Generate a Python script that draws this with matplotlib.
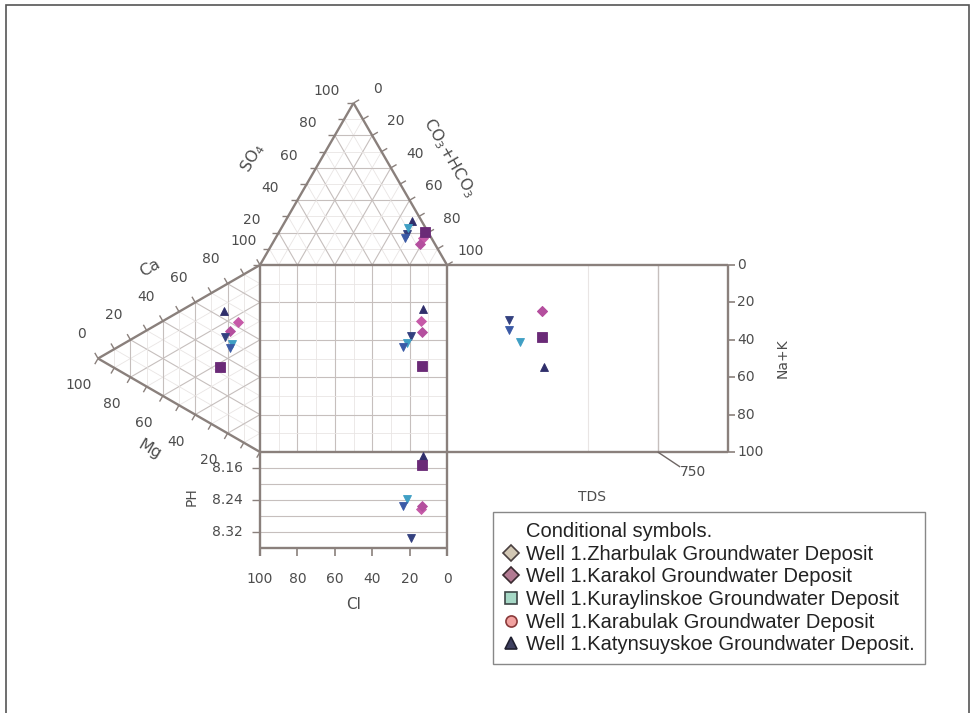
import numpy as np
import matplotlib.pyplot as plt
from matplotlib.lines import Line2D
from matplotlib.patches import Rectangle

# samples, same order in every part of the diagram
cl = [12.7, 14.1, 13.5, 19.3, 21.6, 23.4, 13.2]
na_k = [23.7, 29.9, 35.6, 38.0, 41.6, 43.9, 54.1]
so4 = [27.2, 16.7, 13.0, 19.4, 23.0, 16.5, 20.2]
hco3 = [67.5, 78.7, 79.1, 68.9, 67.8, 69.3, 78.1]
ca = [64.5, 63.0, 55.4, 50.9, 48.9, 46.2, 33.3]
mg = [22.2, 13.4, 18.5, 21.6, 17.5, 18.5, 24.7]
ph = [8.131, 8.262, 8.254, 8.334, 8.237, 8.254, 8.152]
tds = [345, 337, 337, 221, 260, 221, 339]
tds_na_k = [54.7, 24.6, 24.6, 29.6, 41.2, 34.8, 38.3]

markers = ['^', 'D', 'D', 'v', 'v', 'v', 's']
colors = ['#2f2e6b', '#c65aa8', '#b44f9e', '#33407f', '#3f9fc4', '#3b5aa6', '#6a2a77']
msizes = [5.5, 5, 5, 5.5, 5.5, 5.5, 7.5]

legend_title = 'Conditional symbols.'
legend_labels = ['Well 1.Zharbulak Groundwater Deposit',
                 'Well 1.Karakol Groundwater Deposit',
                 'Well 1.Kuraylinskoe Groundwater Deposit',
                 'Well 1.Karabulak Groundwater Deposit',
                 'Well 1.Katynsuyskoe Groundwater Deposit.']
legend_markers = ['D', 'D', 's', 'o', '^']
legend_faces = ['#d2c7b4', '#b27a92', '#a6d8c6', '#f2a2a0', '#3e4060']
legend_edges = ['#4a4040', '#3a2a30', '#3d4646', '#8a3a3a', '#202030']

ph_ticks = [8.16, 8.24, 8.32]
cl_ticks = [100, 80, 60, 40, 20, 0]
nak_ticks = [0, 20, 40, 60, 80, 100]

H = np.sqrt(3) / 2
PH_LO, PH_HI, PH_DEPTH = 8.12, 8.36, 96 / 187
TDS_MAX, TDS_W = 1000, 281 / 187

EDGE = '#8a807c'
G1 = '#e9e5e4'
G2 = '#c6bfbd'
TXT = '#4d4d4d'


def top_tri(s, h):
    # SO4 apex up, Cl at base-left, HCO3 at base-right
    s = np.asarray(s, float) / 100
    h = np.asarray(h, float) / 100
    return h + 0.5 * s, 1 + H * s


def left_tri(c, m):
    # Ca at top-right, Mg at left apex, Na+K at bottom-right
    c = np.asarray(c, float) / 100
    m = np.asarray(m, float) / 100
    return -H * m, c + 0.5 * m


def sq(c, n):
    return 1 - np.asarray(c, float) / 100, 1 - np.asarray(n, float) / 100


def ph_y(p):
    return -(np.asarray(p, float) - PH_LO) / (PH_HI - PH_LO) * PH_DEPTH


def tds_x(t):
    return 1 + np.asarray(t, float) / TDS_MAX * TDS_W


fig = plt.figure(figsize=(9.72, 7.13), dpi=100)
ax = fig.add_axes([0, 0, 1, 1])
ax.set_xlim(-260 / 187, (972 - 260) / 187)
ax.set_ylim((452 - 713) / 187, 452 / 187)
ax.axis('off')

def seg(p, q, color, lw, z=1):
    ax.plot([p[0], q[0]], [p[1], q[1]], color=color, lw=lw, zorder=z,
            solid_capstyle='butt')

# grids
for k in range(1, 10):
    v = k * 10
    col, lw = (G2, 0.8) if k % 2 == 0 else (G1, 0.6)
    # anion triangle
    seg(top_tri(v, 0), top_tri(v, 100 - v), col, lw)
    seg(top_tri(0, v), top_tri(100 - v, v), col, lw)
    seg(top_tri(0, 100 - v), top_tri(100 - v, 0), col, lw)
    # cation triangle
    seg(left_tri(v, 0), left_tri(v, 100 - v), col, lw)
    seg(left_tri(0, v), left_tri(100 - v, v), col, lw)
    seg(left_tri(100 - v, 0), left_tri(0, 100 - v), col, lw)
    # square
    seg(sq(v, 0), sq(v, 100), col, lw)
    seg(sq(0, v), sq(100, v), col, lw)

# pH grid
for p in np.arange(8.16, 8.35, 0.04):
    seg((0, ph_y(p)), (1, ph_y(p)), G2, 0.8)
# TDS grid
seg((tds_x(500), 0), (tds_x(500), 1), G1, 0.8)
seg((tds_x(750), 0), (tds_x(750), 1), G2, 1.0)

# outlines
olw = 1.7
seg(top_tri(0, 0), top_tri(100, 0), EDGE, olw, 3)
seg(top_tri(100, 0), top_tri(0, 100), EDGE, olw, 3)
seg(left_tri(100, 0), left_tri(0, 100), EDGE, olw, 3)
seg(left_tri(0, 100), left_tri(0, 0), EDGE, olw, 3)
seg((0, 1), (tds_x(TDS_MAX), 1), EDGE, olw, 3)
seg((0, 0), (tds_x(TDS_MAX), 0), EDGE, olw, 3)
seg((0, ph_y(PH_HI) - 0.045), (0, 1), EDGE, olw, 3)
seg((1, ph_y(PH_HI) - 0.045), (1, 1), EDGE, olw, 3)
seg((0, ph_y(PH_HI)), (1, ph_y(PH_HI)), EDGE, olw, 3)
seg((tds_x(TDS_MAX), 0), (tds_x(TDS_MAX), 1), EDGE, olw, 3)

# ticks and tick labels
tl = 0.035
fs = 10
for v in range(0, 101, 10):
    x, y = top_tri(v, 0)
    seg((x, y), (x - tl, y), EDGE, 1.0, 3)
    x, y = top_tri(100 - v, v)
    seg((x, y), (x + tl * H, y + tl * 0.5), EDGE, 1.0, 3)
    x, y = left_tri(v, 100 - v)
    seg((x, y), (x - tl * 0.5, y + tl * H), EDGE, 1.0, 3)
    x, y = left_tri(0, v)
    seg((x, y), (x - tl * 0.5, y - tl * H), EDGE, 1.0, 3)
for v in range(20, 101, 20):
    x, y = top_tri(v, 0)
    ax.text(x - 0.145, y + 0.065, str(v), fontsize=fs, color=TXT,
            ha='center', va='center')
for v in range(0, 101, 20):
    x, y = top_tri(100 - v, v)
    ax.text(x + 0.128, y + 0.075, str(v), fontsize=fs, color=TXT,
            ha='center', va='center')
    x, y = left_tri(v, 100 - v)
    ax.text(x - 0.088, y + 0.131, str(v), fontsize=fs, color=TXT,
            ha='center', va='center')
for v in range(20, 101, 20):
    x, y = left_tri(0, v)
    ax.text(x - 0.102, y - 0.144, str(v), fontsize=fs, color=TXT,
            ha='center', va='center')

for p in ph_ticks:
    seg((0, ph_y(p)), (-0.045, ph_y(p)), EDGE, 1.0, 3)
    ax.text(-0.09, ph_y(p), f'{p:.2f}', fontsize=fs, color=TXT,
            ha='right', va='center')
for c in cl_ticks:
    x = sq(c, 0)[0]
    seg((x, ph_y(PH_HI)), (x, ph_y(PH_HI) - 0.045), EDGE, 1.2, 3)
    ax.text(x, ph_y(PH_HI) - 0.165, str(c), fontsize=fs, color=TXT,
            ha='center', va='center')
xr = tds_x(TDS_MAX)
for n in nak_ticks:
    y = sq(0, n)[1]
    seg((xr, y), (xr + 0.035, y), EDGE, 1.2, 3)
    ax.text(xr + 0.05, y, str(n), fontsize=fs, color=TXT,
            ha='left', va='center')

# 750 leader
x7 = tds_x(750)
seg((x7, 0), (x7 + 0.12, -0.08), '#6e6664', 1.0, 3)
ax.text(x7 + 0.19, -0.105, '750', fontsize=fs, color=TXT,
        ha='center', va='center')

# axis names
afs = 11.5
ax.text(-0.037, 1.572, r'SO$_4$', fontsize=afs, color=TXT, rotation=60,
        ha='center', va='center')
ax.text(1.011, 1.572, r'CO$_3$+HCO$_3$', fontsize=afs, color=TXT,
        rotation=-60, ha='center', va='center')
ax.text(-0.588, 0.984, 'Ca', fontsize=afs, color=TXT, rotation=30,
        ha='center', va='center')
ax.text(-0.588, 0.011, 'Mg', fontsize=afs, color=TXT, rotation=-30,
        ha='center', va='center')
ax.text(2.797, 0.503, 'Na+K', fontsize=fs, color=TXT, rotation=90,
        ha='center', va='center')
ax.text(1.775, -0.241, 'TDS', fontsize=fs, color=TXT,
        ha='center', va='center')
ax.text(-0.364, -0.241, 'PH', fontsize=fs, color=TXT, rotation=90,
        ha='center', va='center')
ax.text(0.503, -0.818, 'Cl', fontsize=fs + 1, color=TXT,
        ha='center', va='center')

# sample points
for i in range(len(cl)):
    kw = dict(marker=markers[i], color=colors[i], ms=msizes[i],
              mec=colors[i], mew=0.6, ls='none', zorder=5)
    ax.plot(*top_tri(so4[i], hco3[i]), **kw)
    ax.plot(*left_tri(ca[i], mg[i]), **kw)
    ax.plot(*sq(cl[i], na_k[i]), **kw)
    ax.plot(sq(cl[i], 0)[0], ph_y(ph[i]), **kw)
    ax.plot(tds_x(tds[i]), sq(0, tds_na_k[i])[1], **kw)

# legend
handles = [Line2D([], [], ls='none', marker='none')]
for m, f, e in zip(legend_markers, legend_faces, legend_edges):
    handles.append(Line2D([], [], ls='none', marker=m, mfc=f, mec=e,
                          mew=1.2, ms=8))
leg = ax.legend(handles, [legend_title] + legend_labels, loc='upper left',
                bbox_to_anchor=(493 / 972, 1 - 512 / 713),
                bbox_transform=fig.transFigure, frameon=True, fancybox=False,
                edgecolor='#6a6a6a', prop={'family': 'Liberation Sans', 'size': 14.5},
                handlelength=0.8, handletextpad=0.35, labelspacing=0.18,
                borderpad=0.5, borderaxespad=0)
leg.get_frame().set_linewidth(1.0)
for t in leg.get_texts():
    t.set_color('#222222')

fig.add_artist(Rectangle((6 / 972, -0.01), 963 / 972, 708 / 713 + 0.01,
                         transform=fig.transFigure, fill=False,
                         edgecolor='#555555', lw=1.2))

fig.savefig('out.png', dpi=100)
